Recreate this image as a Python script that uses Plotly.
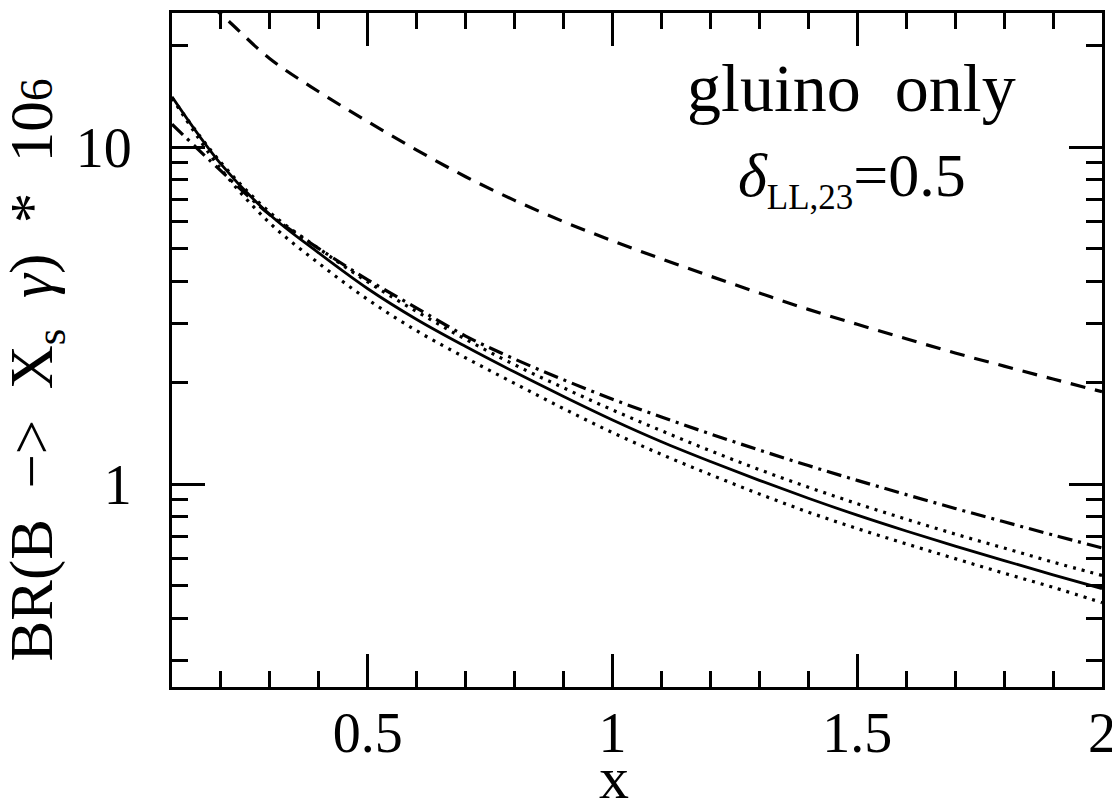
import plotly.graph_objects as go

x_vals = [0.1, 0.2, 0.3, 0.4, 0.5, 0.6, 0.7, 0.8, 0.9, 1.0,
          1.1, 1.2, 1.3, 1.4, 1.5, 1.6, 1.7, 1.8, 1.9, 2.0]

solid = [14.1, 8.9, 6.3, 4.85, 3.80, 3.08, 2.56, 2.15, 1.82, 1.55,
         1.336, 1.167, 1.026, 0.908, 0.809, 0.726, 0.655, 0.593, 0.538, 0.49]
dotted_upper = [14.0, 9.0, 6.4, 5.0, 3.98, 3.25, 2.69, 2.26, 1.93, 1.66,
                1.44, 1.256, 1.104, 0.979, 0.875, 0.787, 0.711, 0.646, 0.587, 0.536]
dotted_lower = [14.0, 8.6, 5.95, 4.52, 3.53, 2.85, 2.37, 1.99, 1.675, 1.422,
                1.225, 1.067, 0.935, 0.826, 0.738, 0.665, 0.601, 0.544, 0.494, 0.445]
dashdot = [11.7, 8.5, 6.3, 5.0, 4.04, 3.33, 2.75, 2.35, 2.04, 1.786,
           1.581, 1.409, 1.262, 1.135, 1.026, 0.931, 0.847, 0.773, 0.706, 0.647]
dashed = [33.0, 24.8, 18.3, 14.6, 11.9, 9.8, 8.17, 6.95, 6.01, 5.27,
          4.66, 4.14, 3.69, 3.30, 2.98, 2.70, 2.45, 2.24, 2.05, 1.88]

x_tickvals = [0.5, 1, 1.5, 2]
x_ticktext = ["0.5", "1", "1.5", "2"]
y_tickvals = [1, 10]
y_ticktext = ["1", "10"]

FONT = "Liberation Serif"

fig = go.Figure()
fig.add_trace(go.Scatter(x=x_vals, y=dashed, mode="lines", line_shape="spline",
                         line=dict(color="black", width=3.2, dash="15px,10px")))
fig.add_trace(go.Scatter(x=x_vals, y=dashdot, mode="lines", line_shape="spline",
                         line=dict(color="black", width=3.2, dash="15px,6px,3px,6px")))
fig.add_trace(go.Scatter(x=x_vals, y=dotted_upper, mode="lines", line_shape="spline",
                         line=dict(color="black", width=3.2, dash="3px,6px")))
fig.add_trace(go.Scatter(x=x_vals, y=dotted_lower, mode="lines", line_shape="spline",
                         line=dict(color="black", width=3.2, dash="3px,6px")))
fig.add_trace(go.Scatter(x=x_vals, y=solid, mode="lines", line_shape="spline",
                         line=dict(color="black", width=2.8)))

fig.update_layout(
    width=1120, height=804,
    margin=dict(l=164, r=26, t=5, b=125),
    paper_bgcolor="white", plot_bgcolor="white",
    showlegend=False,
    font=dict(family=FONT, color="black", size=50),
    xaxis=dict(
        range=[0.1, 2.0], showgrid=False, zeroline=False, automargin=False,
        showline=True, linecolor="black", linewidth=3, mirror="ticks",
        ticks="inside", ticklen=33, tickwidth=2.8, tickcolor="black",
        tickvals=x_tickvals, ticktext=x_ticktext,
        tickfont=dict(family=FONT, size=56), ticklabelstandoff=-5,
        minor=dict(ticks="inside", ticklen=16, tickwidth=2.8, tickcolor="black", dtick=0.1, tick0=0.1),
    ),
    yaxis=dict(
        type="log", range=[-0.602, 1.398], showgrid=False, zeroline=False, automargin=False,
        showline=True, linecolor="black", linewidth=3, mirror="ticks",
        ticks="inside", ticklen=33, tickwidth=2.8, tickcolor="black",
        tickvals=y_tickvals, ticktext=y_ticktext,
        tickfont=dict(family=FONT, size=56), ticklabelstandoff=26,
        minor=dict(ticks="inside", ticklen=16, tickwidth=2.8, tickcolor="black", dtick="D1"),
    ),
    annotations=[
        dict(text="BR(B  −>  X<sub>s</sub>  <i>γ</i>)  *  10<span style='font-size:46px'>6</span>",
             textangle=-90,
             x=-0.146, y=0.47, xref="paper", yref="paper", showarrow=False,
             font=dict(family=FONT, size=61), xanchor="center", yanchor="middle"),
        dict(text="x", x=0.475, y=-0.135, xref="paper", yref="paper", showarrow=False,
             font=dict(family=FONT, size=60), xanchor="center", yanchor="middle"),
        dict(text="gluino  only", x=0.731, y=0.889, xref="paper", yref="paper",
             showarrow=False, font=dict(family=FONT, size=68), xanchor="center", yanchor="middle"),
        dict(text="<i>δ</i><sub><span style='font-size:35px'>LL,23</span></sub>=0.5",
             x=0.731, y=0.754, xref="paper", yref="paper",
             showarrow=False, font=dict(family=FONT, size=62), xanchor="center", yanchor="middle"),
    ],
)

fig.write_html("out.html")
